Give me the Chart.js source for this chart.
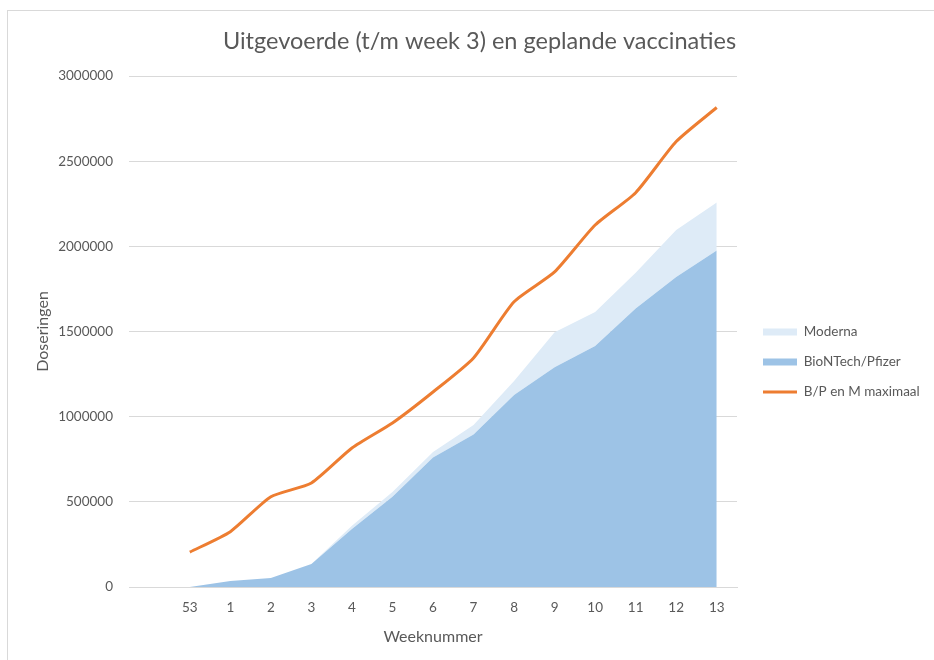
<!DOCTYPE html>
<html>
<head>
<meta charset="utf-8">
<script src="https://cdn.jsdelivr.net/npm/chart.js@4.4.1/dist/chart.umd.min.js"></script>
<style>
  body { margin: 0; background: #fff; }
  #frame { position: absolute; left: 7px; top: 10px; width: 940px; height: 660px; border: 1px solid #d9d9d9; }
</style>
</head>
<body>
<div id="frame"><canvas id="myChart" width="926" height="649"></canvas></div>
<script>
var weeks = ['', '53', '1', '2', '3', '4', '5', '6', '7', '8', '9', '10', '11', '12', '13'];
// BioNTech/Pfizer doses, Moderna on top of it (stacked), and the maximum line
var pfizer = [null, 0, 35000, 53000, 135000, 340000, 530000, 760000, 895000, 1127000, 1290000, 1415000, 1635000, 1820000, 1975000];
var moderna = [null, 0, 0, 0, 0, 20000, 28000, 33000, 56000, 83000, 205000, 200000, 210000, 276000, 283000];
var maximaal = [null, 205000, 325000, 530000, 611000, 816000, 963000, 1145000, 1345000, 1675000, 1850000, 2125000, 2315000, 2615000, 2815000];

var grey = '#595959';
var font = 'Lato';

// legend box: fixed width, items moved a bit right and down
var legendBox = {
  id: 'legendBox',
  beforeLayout: function (chart) {
    var lg = chart.legend;
    if (!lg || lg._patched) return;
    var fit = lg.fit;
    lg.fit = function () { fit.call(this); this.width = 197; };
    lg._patched = true;
  },
  afterLayout: function (chart) {
    var lg = chart.legend;
    lg.left += 9.5; lg.right += 9.5;
    lg.top += 26.5; lg.bottom += 26.5;
  }
};

var ctx = document.getElementById('myChart');
var myChart = new Chart(ctx, {
  type: 'line',
  data: {
    labels: weeks,
    datasets: [{
      label: 'B/P en M maximaal',
      data: maximaal,
      stack: 'max',
      borderColor: '#ED7D31',
      backgroundColor: '#ED7D31',
      borderWidth: 3,
      pointRadius: 0,
      pointStyle: 'line',
      tension: 0.2,
      fill: false
    }, {
      label: 'BioNTech/Pfizer',
      data: pfizer,
      stack: 'area',
      borderWidth: 0,
      borderColor: '#9DC3E6',
      backgroundColor: '#9DC3E6',
      pointRadius: 0,
      pointStyle: 'rect',
      tension: 0,
      fill: 'origin'
    }, {
      label: 'Moderna',
      data: moderna,
      stack: 'area',
      borderWidth: 0,
      borderColor: '#DEEBF7',
      backgroundColor: '#DEEBF7',
      pointRadius: 0,
      pointStyle: 'rect',
      tension: 0,
      fill: '-1'
    }]
  },
  plugins: [legendBox],
  options: {
    responsive: false,
    animation: false,
    layout: { padding: { left: 17, right: 0, top: 0, bottom: 0 } },
    plugins: {
      title: {
        display: true,
        text: 'Uitgevoerde (t/m week 3) en geplande vaccinaties',
        color: grey,
        font: { family: font, size: 23.5, weight: 'normal' },
        padding: { top: 15.9, bottom: 20.9 }
      },
      legend: {
        position: 'right',
        reverse: true,
        labels: {
          usePointStyle: true,
          pointStyleWidth: 34,
          boxHeight: 7,
          padding: 16.5,
          color: grey,
          font: { family: font, size: 13.5 }
        }
      },
      tooltip: { enabled: false }
    },
    scales: {
      x: {
        offset: true,
        grid: { display: false, drawTicks: false },
        border: { display: true, color: '#d9d9d9' },
        ticks: { color: grey, font: { family: font, size: 13.5 }, padding: 13, autoSkip: false, maxRotation: 0 },
        title: { display: true, text: 'Weeknummer', color: grey, font: { family: font, size: 16 }, padding: { top: 0, bottom: 13.4 } },
        afterFit: function (s) { s.height = 73; }
      },
      y: {
        stacked: true,
        min: 0,
        max: 3000000,
        grid: { color: '#d9d9d9', drawTicks: false },
        border: { display: false },
        ticks: {
          stepSize: 500000,
          color: grey,
          font: { family: font, size: 13.5 },
          padding: 16,
          callback: function (v) { return String(v); }
        },
        title: { display: true, text: 'Doseringen', color: grey, font: { family: font, size: 16 }, padding: { top: 8.4, bottom: 0 } },
        afterFit: function (s) { s.width = 104; }
      }
    }
  }
});
</script>
</body>
</html>
